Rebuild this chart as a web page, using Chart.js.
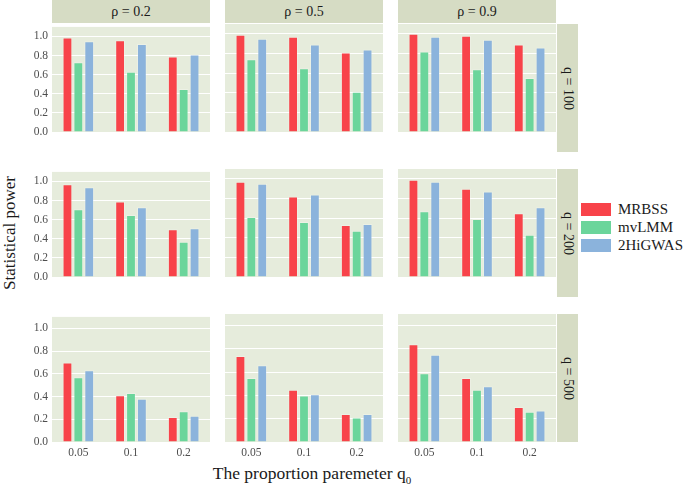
<!DOCTYPE html>
<html>
<head>
<meta charset="utf-8">
<script src="https://cdn.jsdelivr.net/npm/chart.js@4.4.1/dist/chart.umd.min.js"></script>
<style>
  body { margin: 0; background: #fff; }
  #wrap { position: relative; width: 685px; height: 484px; overflow: hidden; font-family: "Liberation Serif", serif; color: #1a1a1a; }
  canvas { position: absolute; }
  .strip { position: absolute; background: #d6dcc4; display: flex; align-items: center; justify-content: center; font-family: "Liberation Serif", serif; font-size: 14px; }
  .strip.side { writing-mode: vertical-rl; }
  .lg { position: absolute; left: 581px; width: 30px; height: 13px; }
  .lgt { position: absolute; left: 618px; font-size: 15px; line-height: 15px; }
</style>
</head>
<body>
<div id="wrap"></div>
<script>
  // ===== Data =====
  const q0Labels = ["0.05", "0.1", "0.2"];
  const rhoLabels = ["ρ = 0.2", "ρ = 0.5", "ρ = 0.9"];
  const qLabels = ["q = 100", "q = 200", "q = 500"];
  const methods = ["MRBSS", "mvLMM", "2HiGWAS"];
  const yTicks = [0, 0.2, 0.4, 0.6, 0.8, 1.0];

  // power[q row][rho col][q0]
  const mrbss = [
    [[0.99, 0.96, 0.79], [0.99, 0.97, 0.81], [1.00, 0.98, 0.89]],
    [[0.97, 0.79, 0.50], [0.97, 0.82, 0.53], [0.99, 0.90, 0.65]],
    [[0.70, 0.41, 0.22], [0.74, 0.45, 0.24], [0.84, 0.55, 0.30]]
  ];
  const mvlmm = [
    [[0.73, 0.63, 0.45], [0.74, 0.65, 0.41], [0.82, 0.64, 0.55]],
    [[0.71, 0.65, 0.37], [0.61, 0.56, 0.47], [0.67, 0.59, 0.43]],
    [[0.57, 0.43, 0.27], [0.55, 0.40, 0.21], [0.59, 0.45, 0.26]]
  ];
  const higwas = [
    [[0.95, 0.92, 0.81], [0.95, 0.89, 0.84], [0.97, 0.94, 0.86]],
    [[0.94, 0.73, 0.51], [0.95, 0.84, 0.54], [0.97, 0.87, 0.71]],
    [[0.63, 0.38, 0.23], [0.66, 0.41, 0.24], [0.75, 0.48, 0.27]]
  ];

  const colors = ["#f8434a", "#6bd59b", "#8bb3dc"];
  const font = "Liberation Serif";
  Chart.defaults.font.family = font;

  // ===== Layout =====
  const colLeft = [52, 225, 398];
  const rowTop = [24, 169, 314];
  const panelW = 158, panelH = 128;
  const padTop = 8;
  const wrap = document.getElementById("wrap");

  function el(cls, style, text) {
    let d = document.createElement("div");
    d.className = cls;
    Object.assign(d.style, style);
    if (text) d.textContent = text;
    wrap.appendChild(d);
    return d;
  }

  const panelBg = {
    id: "panelBg",
    beforeDraw(chart) {
      let a = chart.chartArea, c = chart.ctx;
      c.save();
      c.fillStyle = "#e6ecdc";
      c.fillRect(a.left, a.top, a.right - a.left, a.bottom - a.top);
      c.restore();
    }
  };

  function drawPanels() {
    for (let r = 0; r < 3; r++) {
      for (let k = 0; k < 3; k++) {
        let yw = k == 0 ? 30 : 0;
        let xh = r == 2 ? 20 : 8;
        let cv = document.createElement("canvas");
        cv.width = panelW + yw;
        cv.height = padTop + panelH + xh;
        cv.style.left = (colLeft[k] - yw) + "px";
        cv.style.top = (rowTop[r] - padTop) + "px";
        wrap.appendChild(cv);

        let sets = [mrbss, mvlmm, higwas].map((src, i) => ({
          label: methods[i],
          data: src[r][k],
          backgroundColor: colors[i],
          borderColor: "rgba(255,255,255,0.25)",
          borderWidth: 1,
          barPercentage: 0.9,
          categoryPercentage: 0.62
        }));

        new Chart(cv.getContext("2d"), {
          type: "bar",
          data: { labels: q0Labels, datasets: sets },
          options: {
            responsive: false,
            animation: false,
            devicePixelRatio: 1,
            layout: { padding: { top: padTop, bottom: r == 2 ? 0 : 8, left: 0, right: 0 } },
            plugins: { legend: { display: false }, tooltip: { enabled: false } },
            scales: {
              x: {
                display: r == 2,
                grid: { display: false, drawTicks: false },
                border: { display: false },
                ticks: { color: "#4d4d4d", font: { family: font, size: 11.5 }, padding: 4, maxRotation: 0 },
                afterFit: s => { s.height = 20; }
              },
              y: {
                min: 0, max: 1.1,
                afterBuildTicks: s => { s.ticks = yTicks.map(v => ({ value: v })); },
                ticks: {
                  display: k == 0,
                  color: "#4d4d4d",
                  font: { family: font, size: 11.5 },
                  padding: 4,
                  callback: v => v.toFixed(1)
                },
                grid: { color: "#ffffff", lineWidth: 1, drawTicks: false },
                border: { display: false },
                afterFit: s => { s.width = yw; }
              }
            }
          },
          plugins: [panelBg]
        });
      }
    }
  }

  // ===== Strips =====
  for (let k = 0; k < 3; k++) {
    el("strip", { left: colLeft[k] + "px", top: "0px", width: panelW + "px", height: "23px" }, rhoLabels[k]);
  }
  for (let r = 0; r < 3; r++) {
    el("strip side", { left: "557px", top: rowTop[r] + "px", width: "21px", height: panelH + "px" }, qLabels[r]);
  }

  // ===== Legend =====
  let lgTop = [203, 221, 239];
  for (let i = 0; i < 3; i++) {
    el("lg", { top: lgTop[i] + "px", background: colors[i] });
    el("lgt", { top: (lgTop[i] - 1) + "px" }, methods[i]);
  }

  // ===== Axis titles =====
  el("", { position: "absolute", left: "0px", top: "223px", width: "20px", height: "20px", fontSize: "17px",
    transform: "rotate(-90deg)", whiteSpace: "nowrap", display: "flex", justifyContent: "center", alignItems: "center" },
    "Statistical power");
  let xt = el("", { position: "absolute", left: "0px", width: "624px", top: "463px", textAlign: "center", fontSize: "17.5px", whiteSpace: "nowrap" });
  xt.innerHTML = "The proportion paremeter q<sub style='font-size:11px'>0</sub>";

  document.fonts.load("12px 'Liberation Serif'").then(drawPanels, drawPanels);
</script>
</body>
</html>
